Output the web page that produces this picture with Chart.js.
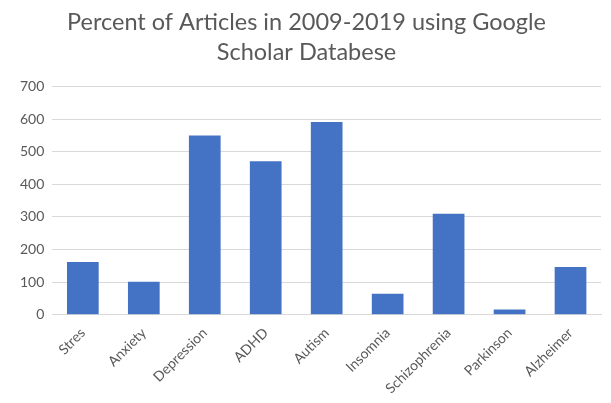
<!DOCTYPE html>
<html>
<head>
<meta charset="utf-8">
<script src="https://cdn.jsdelivr.net/npm/chart.js@4/dist/chart.umd.min.js"></script>
<style>
  html, body { margin: 0; padding: 0; background: #fff; }
  #chart { display: block; }
</style>
</head>
<body>
<canvas id="chart" width="611" height="403"></canvas>
<script>
// values
var categories = ['Stres', 'Anxiety', 'Depression', 'ADHD', 'Autism', 'Insomnia', 'Schizophrenia', 'Parkinson', 'Alzheimer'];
var articles = [162, 101, 550, 471, 592, 64, 310, 16, 146];
var titleLines = ['Percent of Articles in 2009-2019 using Google', 'Scholar Databese'];

const TEXT_GREY = '#595959';
const GRID_GREY = '#d9d9d9';
const BAR_BLUE = '#4472c4';
const FONT = "Lato, 'Open Sans', sans-serif";

var ctx = document.getElementById('chart');
var myChart = new Chart(ctx, {
    type: 'bar',
    data: {
        labels: categories,
        datasets: [{
            label: 'Articles',
            data: articles,
            backgroundColor: BAR_BLUE,
            borderWidth: 0,
            categoryPercentage: 1,
            barPercentage: 0.52
        }]
    },
    options: {
        responsive: false,
        animation: false,
        layout: {padding: {left: 12, right: 10, top: 0, bottom: -4}},
        plugins: {
            legend: {display: false},
            tooltip: {enabled: false},
            title: {
                display: true,
                text: titleLines,
                color: TEXT_GREY,
                font: {family: FONT, size: 23.5, weight: 'normal', lineHeight: 1.25},
                padding: {top: 8, bottom: 20}
            }
        },
        scales: {
            x: {
                grid: {display: false, drawTicks: false},
                border: {display: true, color: GRID_GREY, width: 1},
                ticks: {
                    color: TEXT_GREY,
                    font: {family: FONT, size: 14},
                    minRotation: 45,
                    maxRotation: 45,
                    padding: 10
                }
            },
            y: {
                min: 0,
                max: 700,
                grid: {color: GRID_GREY, drawTicks: false},
                border: {display: false},
                ticks: {
                    stepSize: 100,
                    color: TEXT_GREY,
                    font: {family: FONT, size: 14},
                    padding: 8
                }
            }
        }
    }
});
</script>
</body>
</html>
